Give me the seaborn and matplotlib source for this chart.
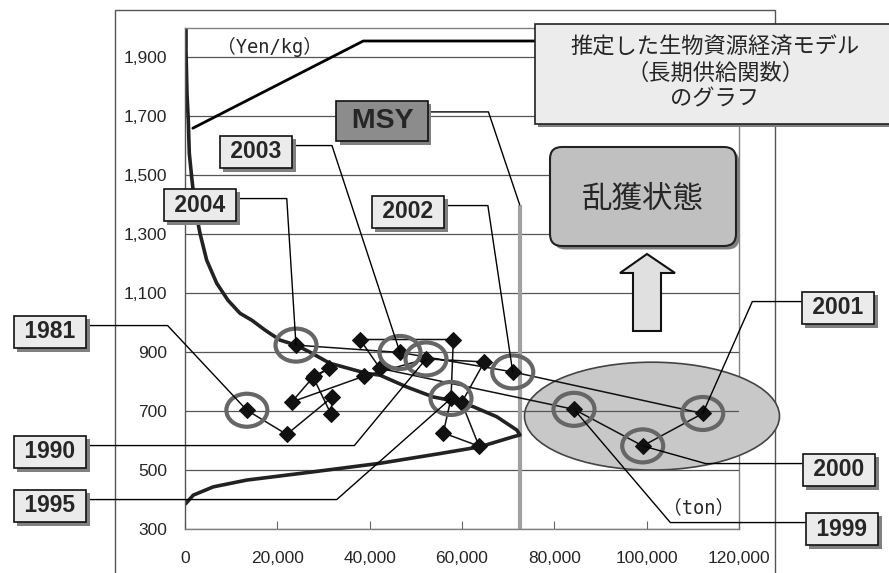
import pandas as pd
import seaborn as sns
import matplotlib.pyplot as plt
import matplotlib.patheffects as pe
from matplotlib.patches import Ellipse, Rectangle, FancyBboxPatch, Polygon
from matplotlib.transforms import IdentityTransform

# observed catch (ton) and price (Yen/kg), 1981-2004
years = list(range(1981, 2005))
catch_t = [13400, 22030, 31910, 31625, 27800, 31190, 27900, 23110, 38840, 52200,
           64830, 59930, 63690, 55950, 57620, 58120, 37910, 42240, 84260, 99140,
           112140, 70990, 46570, 24040]
price = [703, 621, 748, 690, 814, 845, 818, 731, 819, 877,
         867, 729, 581, 626, 743, 943, 943, 845, 706, 582,
         692, 833, 899, 924]

# estimated long-run supply curve (backward bending)
curve_x = [220, 217, 430, 715, 931, 1451, 2166, 3249, 4700, 6866, 9314, 11913,
           14513, 17330, 20580, 24040, 27080, 31400, 33580, 39360, 42240, 48030,
           53790, 57400, 62450, 67520, 71850, 72560,
           71100, 63900, 55240, 42240, 27790, 13360, 6130, 1800, 100]
curve_y = [2000, 1924, 1778, 1686, 1575, 1493, 1392, 1303, 1212, 1134, 1076, 1032,
           1008, 975, 941, 924, 900, 862, 853, 828, 822, 782,
           748, 737, 715, 681, 636, 619,
           613, 579, 556, 523, 494, 466, 443, 415, 385]

msy_x = 72500
msy_top = 1400

x_ticks = [0, 20000, 40000, 60000, 80000, 100000, 120000]
x_labels = ['0', '20,000', '40,000', '60,000', '80,000', '100,000', '120,000']
y_ticks = [300, 500, 700, 900, 1100, 1300, 1500, 1700, 1900]
y_labels = ['300', '500', '700', '900', '1,100', '1,300', '1,500', '1,700', '1,900']

# labelled years, label box centre (image px) and leader angle at the point
label_years = [1981, 1990, 1995, 2004, 2003, 2002, 2001, 2000, 1999]
label_pos = [(50, 332), (50, 452), (50, 506), (200, 205), (256, 152),
             (408, 212), (838, 308), (839, 470), (842, 529)]
label_angle = [133.1, 50.4, 41.5, 93.6, 108.2, 98.5, 66.1, -15.7, -49.6]

W, H = 889, 573

sns.set_style('white')
plt.rcParams['font.family'] = ['Liberation Sans', 'Noto Sans CJK JP']

traj = pd.DataFrame({'year': years, 'catch': catch_t, 'price': price})
curve = pd.DataFrame({'catch': curve_x, 'price': curve_y})


def px(x, y):
    return (x, H - y)


def ff(x, y):
    return (x / W, 1 - y / H)


fig = plt.figure(figsize=(W / 100, H / 100), dpi=100)
ax = fig.add_axes([185 / W, 44 / H, 554 / W, 501 / H])

# overfished region
ax.add_patch(Ellipse((101150, 683), 55240, 366, facecolor='#c8c8c8',
                     edgecolor='#444444', lw=1.2, zorder=1, clip_on=False))

ax.vlines(msy_x, 300, msy_top, color='#a0a0a0', lw=3, zorder=1.8)

sns.lineplot(data=curve, x='catch', y='price', sort=False, estimator=None,
             color='#222222', lw=2.6, ax=ax, zorder=2)
sns.lineplot(data=traj, x='catch', y='price', sort=False, estimator=None,
             color='#111111', lw=1.1, marker='D', markersize=8,
             markeredgecolor='#111111', ax=ax, zorder=3)

ax.set_xlim(0, 120000)
ax.set_ylim(300, 2000)
ax.set_xticks(x_ticks, x_labels)
ax.set_yticks(y_ticks, y_labels)
ax.set_xlabel('')
ax.set_ylabel('')
ax.grid(axis='y', color='#555555', lw=0.9)
ax.set_axisbelow('line')
ax.tick_params(axis='x', direction='in', length=6, color='#666666', pad=16,
               labelsize=12.5, bottom=True)
ax.tick_params(axis='y', length=0, pad=13, labelsize=12.5)
for side in ['top', 'right', 'bottom', 'left']:
    ax.spines[side].set_color('#808080')
    ax.spines[side].set_linewidth(1)
ax.spines['left'].set_color('#555555')
ax.spines['right'].set_zorder(0.9)

# rings round labelled points and year labels
shadow = [pe.withSimplePatchShadow(offset=(2.5, -2.5), shadow_rgbFace='#808080', alpha=1)]
for yr, pos, ang in zip(label_years, label_pos, label_angle):
    i = years.index(yr)
    xd, yd = catch_t[i], price[i]
    ax.add_patch(Ellipse((xd, yd), 8880, 112, facecolor='none',
                         edgecolor='#666666', lw=3, zorder=4))
    t = ax.annotate(f' {yr} ', xy=(xd, yd), xycoords='data',
                    xytext=ff(*pos), textcoords='figure fraction',
                    ha='center', va='center', fontsize=16.5, fontweight='bold',
                    annotation_clip=False, zorder=6,
                    bbox=dict(boxstyle='square,pad=0.2', facecolor='#ebebeb',
                              edgecolor='#111111', lw=1.2),
                    arrowprops=dict(arrowstyle='-', color='black', lw=1,
                                    shrinkA=0, shrinkB=0, relpos=(0.5, 0.78),
                                    connectionstyle=f'angle,angleA=0,angleB={ang},rad=0'))
    t.get_bbox_patch().set_path_effects(shadow)

# MSY label
t = ax.annotate(' MSY ', xy=(msy_x, msy_top), xycoords='data',
                xytext=ff(382, 121), textcoords='figure fraction',
                ha='center', va='center', fontsize=20.5, fontweight='bold',
                annotation_clip=False, zorder=6,
                bbox=dict(boxstyle='square,pad=0.25', facecolor='#8c8c8c',
                          edgecolor='#111111', lw=1.2),
                arrowprops=dict(arrowstyle='-', color='black', lw=1,
                                shrinkA=0, shrinkB=0, relpos=(0.5, 0.85),
                                connectionstyle='angle,angleA=0,angleB=108.6,rad=0'))
t.get_bbox_patch().set_path_effects(shadow)

# leader from model box to the supply curve
ax.annotate('', xy=(1700, 1660), xycoords='data', xytext=ff(535, 41),
            textcoords='figure fraction', annotation_clip=False, zorder=5,
            arrowprops=dict(arrowstyle='-', color='black', lw=2,
                            shrinkA=0, shrinkB=0,
                            connectionstyle='angle,angleA=0,angleB=27.1,rad=0'))

# outer frame
fig.add_artist(Rectangle(px(115, 580), 660, 570, transform=IdentityTransform(),
                         facecolor='none', edgecolor='#555555', lw=1, zorder=-1))

# model description box
fig.add_artist(Rectangle(px(535, 124), 400, 100, transform=IdentityTransform(),
                         facecolor='#ececec', edgecolor='#222222', lw=1.2,
                         zorder=5, path_effects=shadow))
fig.text(*ff(715, 73), '推定した生物資源経済モデル\n（長期供給関数）\nのグラフ',
         ha='center', va='center', fontsize=16, linespacing=1.15,
         family=['Noto Sans CJK JP'], zorder=6)

# overfishing box
fig.add_artist(FancyBboxPatch(px(550, 246), 186, 99, transform=IdentityTransform(),
                              boxstyle='round,pad=0,rounding_size=12',
                              facecolor='#c0c0c0', edgecolor='#222222', lw=1.5,
                              zorder=5, path_effects=shadow))
fig.text(*ff(643, 199), '乱獲状態', ha='center', va='center', fontsize=22,
         family=['Noto Sans CJK JP'], zorder=6)

# up arrow
arrow_pts = [px(647, 254), px(620, 273), px(633, 273), px(633, 331),
             px(661, 331), px(661, 273), px(675, 273)]
fig.add_artist(Polygon(arrow_pts, closed=True, transform=IdentityTransform(),
                       facecolor='#e0e0e0', edgecolor='#111111', lw=1.5, zorder=5))

# unit labels
unit_font = ['DejaVu Sans Mono', 'Noto Sans CJK JP']
fig.text(*ff(270, 47), '（Yen/kg）', ha='center', va='center', fontsize=13.5,
         family=unit_font)
fig.text(*ff(699, 508), '（ton）', ha='center', va='center', fontsize=13.5,
         family=unit_font)

plt.savefig('out.png', dpi=100)
